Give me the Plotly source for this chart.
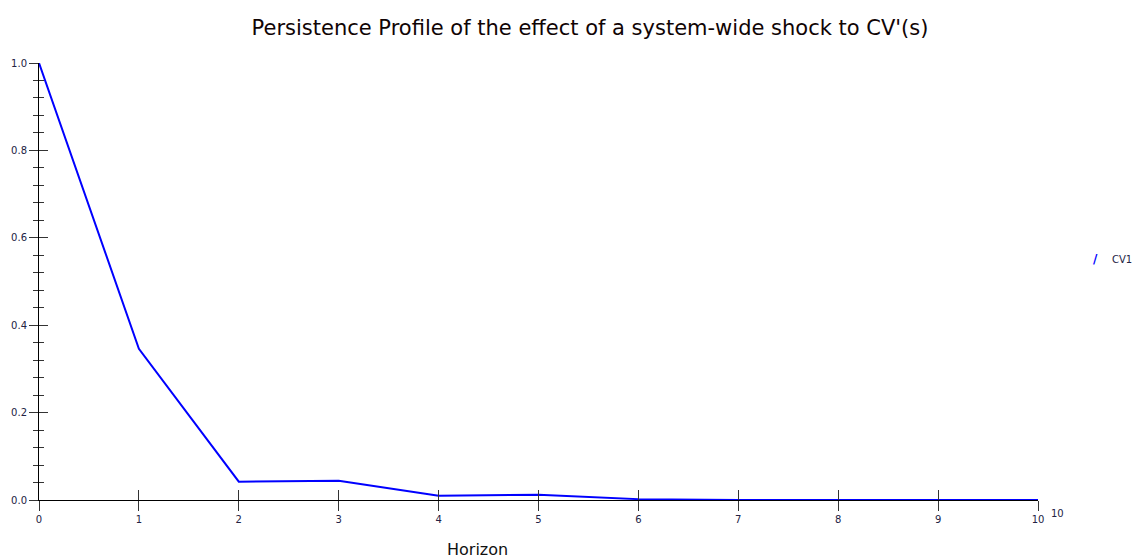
import plotly.graph_objects as go

horizon = [0, 1, 2, 3, 4, 5, 6, 7, 8, 9, 10]
cv1 = [1.0, 0.346, 0.042, 0.044, 0.010, 0.012, 0.002, 0.0, 0.0, 0.0, 0.0]
x_ticks = [0, 1, 2, 3, 4, 5, 6, 7, 8, 9, 10]
y_ticks = [0.0, 0.2, 0.4, 0.6, 0.8, 1.0]

FONT = "DejaVu Sans, Arial, sans-serif"
TICKCOL = "#222244"

W, H = 1133, 558
l, r, t, b = 39, 95, 63, 58
pw, ph = W - l - r, H - t - b

def px2paper(px, py):
    return (px - l) / pw, 1 - (py - t) / ph

fig = go.Figure()
fig.add_trace(go.Scatter(x=horizon, y=cv1, mode="lines", name="CV1",
                         line=dict(color="#0000FF", width=2), showlegend=False))
# invisible trace hosting the overlay axes (for ticks crossing the axis lines)
fig.add_trace(go.Scatter(x=horizon, y=cv1, mode="lines", xaxis="x2", yaxis="y2",
                         line=dict(color="rgba(0,0,0,0)", width=0), showlegend=False,
                         hoverinfo="skip"))

anns = []
def ann(text, px, py, size, color, xanchor="center"):
    ax, ay = px2paper(px, py)
    anns.append(dict(text=text, x=ax, y=ay, xref="paper", yref="paper", showarrow=False,
                     xanchor=xanchor, yanchor="middle",
                     font=dict(family=FONT, size=size, color=color)))

ann("Horizon", 477, 549, 16, "#111111")
ann("10", 1057, 513, 10, TICKCOL)
ann("<b>/</b>", 1095, 259, 12, "#0000FF")
ann("CV1", 1110, 259, 10, TICKCOL, xanchor="left")

fig.update_layout(
    width=W, height=H,
    paper_bgcolor="white", plot_bgcolor="white",
    margin=dict(l=l, r=r, t=t, b=b, autoexpand=False),
    font=dict(family=FONT, color=TICKCOL, size=10),
    title=dict(text="Persistence Profile of the effect of a system-wide shock to CV'(s)",
               x=590 / W, xref="container", xanchor="center",
               y=1 - 28 / H, yref="container", yanchor="middle",
               font=dict(family=FONT, size=21, color="#100404")),
    xaxis=dict(range=[0, 10], tickvals=x_ticks, ticktext=[str(v) for v in x_ticks],
               showgrid=False, zeroline=False, showline=True, linecolor="black", linewidth=1,
               ticks="outside", ticklen=10, tickcolor="#333333", tickwidth=1,
               tickfont=dict(size=10, color=TICKCOL), automargin=False),
    xaxis2=dict(range=[0, 10], overlaying="x", tickvals=x_ticks, showticklabels=False,
                showgrid=False, zeroline=False, showline=False,
                ticks="inside", ticklen=10, tickcolor="#333333", tickwidth=1, anchor="y2"),
    yaxis=dict(range=[0, 1], tickvals=y_ticks, tickformat=".1f",
               showgrid=False, zeroline=False, showline=True, linecolor="black", linewidth=1,
               ticks="outside", ticklen=9, tickcolor="#333333", tickwidth=1,
               minor=dict(ticks="outside", ticklen=5, dtick=0.04, tick0=0, tickcolor="#333333", showgrid=False),
               tickfont=dict(size=10, color=TICKCOL), automargin=False),
    yaxis2=dict(range=[0, 1], overlaying="y", tickvals=y_ticks, showticklabels=False,
                showgrid=False, zeroline=False, showline=False,
                ticks="inside", ticklen=9, tickcolor="#333333", tickwidth=1,
                minor=dict(ticks="inside", ticklen=5, dtick=0.04, tick0=0, tickcolor="#333333", showgrid=False),
                anchor="x2"),
    annotations=anns,
)

fig.write_html("out.html", config={"displayModeBar": False},
               post_script="document.body.style.margin='0';document.body.style.overflow='hidden';")
